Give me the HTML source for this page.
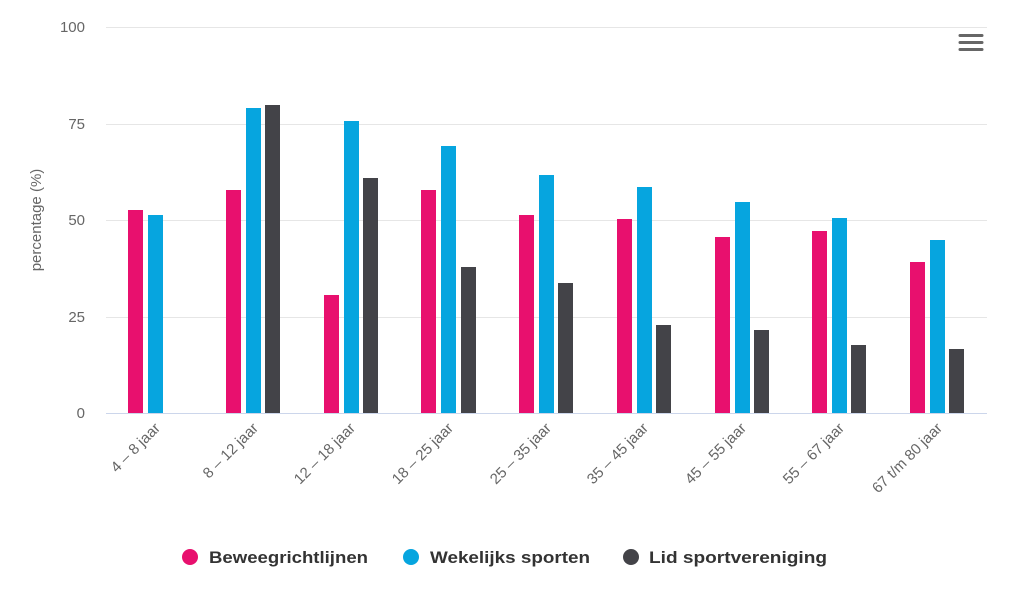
<!DOCTYPE html><html><head><meta charset="utf-8"><style>body{margin:0;background:#fff}svg{display:block;font-family:"Liberation Sans",sans-serif}</style></head><body>
<svg width="1022" height="590" viewBox="0 0 1022 590">
<g stroke="#e6e6e6" stroke-width="1">
<line x1="106" y1="27.5" x2="987" y2="27.5"/><line x1="106" y1="124.5" x2="987" y2="124.5"/><line x1="106" y1="220.5" x2="987" y2="220.5"/><line x1="106" y1="317.5" x2="987" y2="317.5"/></g>
<line x1="106" y1="413.5" x2="987" y2="413.5" stroke="#ccd6eb"/>
<g fill="#666" font-size="15" text-anchor="end">
<text x="85" y="32">100</text><text x="85" y="129">75</text><text x="85" y="225">50</text><text x="85" y="322">25</text><text x="85" y="418">0</text></g>
<text transform="translate(41,220) rotate(-90)" text-anchor="middle" fill="#666" font-size="15">percentage (%)</text>
<g fill="#e8106e">
<rect x="128" y="210" width="15" height="203"/><rect x="226" y="190" width="15" height="223"/><rect x="324" y="295" width="15" height="118"/><rect x="421" y="190" width="15" height="223"/><rect x="519" y="215" width="15" height="198"/><rect x="617" y="219" width="15" height="194"/><rect x="715" y="237" width="15" height="176"/><rect x="812" y="231" width="15" height="182"/><rect x="910" y="262" width="15" height="151"/></g>
<g fill="#06a5df">
<rect x="148" y="215" width="15" height="198"/><rect x="246" y="108" width="15" height="305"/><rect x="344" y="121" width="15" height="292"/><rect x="441" y="146" width="15" height="267"/><rect x="539" y="175" width="15" height="238"/><rect x="637" y="187" width="15" height="226"/><rect x="735" y="202" width="15" height="211"/><rect x="832" y="218" width="15" height="195"/><rect x="930" y="240" width="15" height="173"/></g>
<g fill="#434348">
<rect x="265" y="105" width="15" height="308"/><rect x="363" y="178" width="15" height="235"/><rect x="461" y="267" width="15" height="146"/><rect x="558" y="283" width="15" height="130"/><rect x="656" y="325" width="15" height="88"/><rect x="754" y="330" width="15" height="83"/><rect x="851" y="345" width="15" height="68"/><rect x="949" y="349" width="15" height="64"/></g>
<g fill="#666" font-size="15" text-anchor="end">
<text transform="translate(161,429) rotate(-45)">4 – 8 jaar</text>
<text transform="translate(259,429) rotate(-45)">8 – 12 jaar</text>
<text transform="translate(356,429) rotate(-45)">12 – 18 jaar</text>
<text transform="translate(454,429) rotate(-45)">18 – 25 jaar</text>
<text transform="translate(552,429) rotate(-45)">25 – 35 jaar</text>
<text transform="translate(649,429) rotate(-45)">35 – 45 jaar</text>
<text transform="translate(747,429) rotate(-45)">45 – 55 jaar</text>
<text transform="translate(845,429) rotate(-45)">55 – 67 jaar</text>
<text transform="translate(943,429) rotate(-45)">67 t/m 80 jaar</text></g>
<g stroke="#666" stroke-width="3" stroke-linecap="round">
<line x1="960" y1="35.5" x2="982" y2="35.5"/><line x1="960" y1="42.5" x2="982" y2="42.5"/><line x1="960" y1="49.5" x2="982" y2="49.5"/></g>
<g font-size="17" font-weight="bold" fill="#333">
<circle cx="190" cy="557" r="8" fill="#e8106e"/><text x="209" y="563" textLength="159" lengthAdjust="spacingAndGlyphs">Beweegrichtlijnen</text>
<circle cx="411" cy="557" r="8" fill="#06a5df"/><text x="430" y="563" textLength="160" lengthAdjust="spacingAndGlyphs">Wekelijks sporten</text>
<circle cx="631" cy="557" r="8" fill="#434348"/><text x="649" y="563" textLength="178" lengthAdjust="spacingAndGlyphs">Lid sportvereniging</text></g>
</svg></body></html>
